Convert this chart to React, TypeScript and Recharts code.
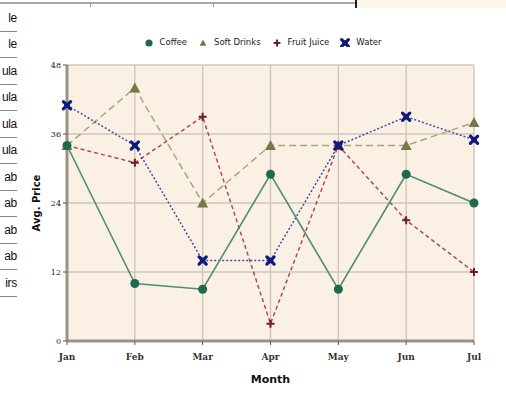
import React from 'react';
import { LineChart, Line, XAxis, YAxis, CartesianGrid, Legend } from 'recharts';

const months = ['Jan', 'Feb', 'Mar', 'Apr', 'May', 'Jun', 'Jul'];
const coffee = [34, 10, 9, 29, 9, 29, 24];
const softDrinks = [34, 44, 24, 34, 34, 34, 38];
const fruitJuice = [34, 31, 39, 3, 34, 21, 12];
const water = [41, 34, 14, 14, 34, 39, 35];
const yTicks = [0, 12, 24, 36, 48];
const sideCells = ['le', 'le', 'ula', 'ula', 'ula', 'ula', 'ab', 'ab', 'ab', 'ab', 'irs'];

const data = months.map((m, i) => ({
  month: m,
  coffee: coffee[i],
  softDrinks: softDrinks[i],
  fruitJuice: fruitJuice[i],
  water: water[i],
}));

const serif = '"DejaVu Serif", "Liberation Serif", serif';
const sans = '"DejaVu Sans", "Liberation Sans", sans-serif';

const CircleMark = ({ cx, cy, size = 4.5 }: any) => (
  <circle cx={cx} cy={cy} r={size} fill="#1d6b4d" />
);

const TriangleMark = ({ cx, cy, size = 5.5 }: any) => (
  <path
    d={`M${cx},${cy - size} L${cx + size},${cy + size * 0.8} L${cx - size},${cy + size * 0.8} Z`}
    fill="#77774a"
  />
);

const PlusMark = ({ cx, cy, size = 4 }: any) => (
  <g stroke="#6e1c2c" strokeWidth={2}>
    <line x1={cx - size} y1={cy} x2={cx + size} y2={cy} />
    <line x1={cx} y1={cy - size} x2={cx} y2={cy + size} />
  </g>
);

const XMark = ({ cx, cy, size = 3.6 }: any) => (
  <g>
    <g stroke="#0f1b7c" strokeWidth={3.2} strokeLinecap="round">
      <line x1={cx - size} y1={cy - size} x2={cx + size} y2={cy + size} />
      <line x1={cx - size} y1={cy + size} x2={cx + size} y2={cy - size} />
    </g>
    <circle cx={cx} cy={cy} r={2.8} fill="#0f1b7c" />
  </g>
);

const legendItems = [
  { name: 'Coffee', Mark: CircleMark },
  { name: 'Soft Drinks', Mark: TriangleMark },
  { name: 'Fruit Juice', Mark: PlusMark },
  { name: 'Water', Mark: XMark },
];

const ChartLegend = () => (
  <div style={{ display: 'flex', justifyContent: 'center', height: 14, alignItems: 'center', paddingLeft: 30 }}>
    {legendItems.map(({ name, Mark }) => (
      <div key={name} style={{ display: 'flex', alignItems: 'center', marginRight: 11 }}>
        <svg width={10} height={10} style={{ marginRight: 6 }}>
          <Mark cx={5} cy={6} size={name === 'Coffee' ? 3.6 : 3.4} />
        </svg>
        <span style={{ fontFamily: sans, fontSize: 8.5, color: '#222' }}>{name}</span>
      </div>
    ))}
  </div>
);

const SheetScraps = () => (
  <>
    <div style={{ position: 'absolute', left: 0, top: 2, width: 356, height: 2, background: '#a8a8a8' }} />
    <div style={{ position: 'absolute', left: 90, top: 2, width: 1, height: 5, background: '#999' }} />
    <div style={{ position: 'absolute', left: 213, top: 2, width: 1, height: 5, background: '#999' }} />
    <div style={{ position: 'absolute', left: 355, top: 0, width: 2, height: 8, background: '#222' }} />
    <div style={{ position: 'absolute', left: 357, top: 0, width: 149, height: 8, background: '#fbf6e8' }} />
    {sideCells.map((t, i) => (
      <div
        key={i}
        style={{
          position: 'absolute',
          left: 0,
          top: 5 + i * 26.5,
          width: 17,
          height: 25.5,
          borderBottom: '1px solid #888',
          display: 'flex',
          justifyContent: 'flex-end',
          alignItems: 'center',
          fontFamily: '"Liberation Sans", Arial, sans-serif',
          fontSize: 12,
          letterSpacing: -0.3,
          color: '#111',
          whiteSpace: 'nowrap',
        }}
      >
        {t}
      </div>
    ))}
  </>
);

export default function App() {
  return (
    <div style={{ position: 'absolute', left: 0, top: 0, width: 506, height: 414, background: '#fff', overflow: 'hidden' }}>
      <SheetScraps />
      <div style={{ position: 'absolute', left: 0, top: 0 }}>
        <LineChart width={506} height={414} data={data} margin={{ top: 51, right: 32, left: 37, bottom: 43 }}>
          <CartesianGrid fill="#faf0e4" stroke="#cec7bd" strokeWidth={1.4} />
          <XAxis
            dataKey="month"
            height={30}
            padding={{ left: 0, right: 0 }}
            tick={{ fontFamily: serif, fontSize: 9, fill: '#333', fontWeight: 'bold' }}
            tickLine={{ stroke: '#555' }}
            tickSize={4}
            tickMargin={9}
            axisLine={{ stroke: '#999385', strokeWidth: 3 }}
            label={{ value: 'Month', position: 'bottom', offset: 4, style: { fontFamily: sans, fontSize: 11, fontWeight: 'bold', fill: '#111' } }}
          />
          <YAxis
            width={30}
            domain={[0, 48]}
            ticks={yTicks}
            tick={{ fontFamily: serif, fontSize: 8, fill: '#222' }}
            tickLine={{ stroke: '#555' }}
            tickSize={4}
            axisLine={{ stroke: '#999385', strokeWidth: 3 }}
            label={{ value: 'Avg. Price', angle: -90, position: 'center', dx: -16, style: { fontFamily: sans, fontSize: 10, fontWeight: 'bold', fill: '#111' } }}
          />
          <Legend verticalAlign="top" content={<ChartLegend />} wrapperStyle={{ top: 35, left: 0, width: 506 }} />
          <Line
            dataKey="softDrinks"
            name="Soft Drinks"
            stroke="#a9a67a"
            strokeWidth={1.5}
            strokeDasharray="7 4"
            dot={(p: any) => <TriangleMark key={`s${p.index}`} cx={p.cx} cy={p.cy} />}
            isAnimationActive={false}
          />
          <Line
            dataKey="fruitJuice"
            name="Fruit Juice"
            stroke="#b04a5c"
            strokeWidth={1.5}
            strokeDasharray="4 3"
            dot={(p: any) => <PlusMark key={`f${p.index}`} cx={p.cx} cy={p.cy} />}
            isAnimationActive={false}
          />
          <Line
            dataKey="water"
            name="Water"
            stroke="#3f4fa8"
            strokeWidth={1.5}
            strokeDasharray="2 2"
            dot={(p: any) => <XMark key={`w${p.index}`} cx={p.cx} cy={p.cy} />}
            isAnimationActive={false}
          />
          <Line
            dataKey="coffee"
            name="Coffee"
            stroke="#4f8e74"
            strokeWidth={1.6}
            dot={(p: any) => <CircleMark key={`c${p.index}`} cx={p.cx} cy={p.cy} />}
            isAnimationActive={false}
          />
        </LineChart>
      </div>
    </div>
  );
}
